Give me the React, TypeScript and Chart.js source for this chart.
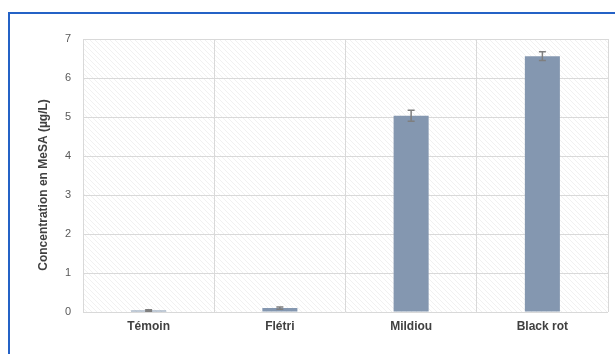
import React, { useEffect, useRef } from "react";
import { Chart, registerables } from "chart.js";

Chart.register(...registerables);

const categories = ["Témoin", "Flétri", "Mildiou", "Black rot"];
const values = [0.04, 0.1, 5.03, 6.56];
const errors = [0.02, 0.03, 0.14, 0.11];
const yTicks = [0, 1, 2, 3, 4, 5, 6, 7];
const yTitle = "Concentration en MeSA (µg/L)";

const FONT = "'Liberation Sans', Arial, sans-serif";

function makePattern(): CanvasPattern | string {
  const c = document.createElement("canvas");
  c.width = 5;
  c.height = 5;
  const ctx = c.getContext("2d");
  if (!ctx) return "#ffffff";
  ctx.fillStyle = "#ffffff";
  ctx.fillRect(0, 0, 5, 5);
  ctx.strokeStyle = "#f1f1f1";
  ctx.lineWidth = 1;
  ctx.beginPath();
  ctx.moveTo(-1, -1);
  ctx.lineTo(6, 6);
  ctx.moveTo(-1, 4);
  ctx.lineTo(1, 6);
  ctx.moveTo(4, -1);
  ctx.lineTo(6, 1);
  ctx.stroke();
  const p = ctx.createPattern(c, "repeat");
  return p || "#ffffff";
}

const bgPlugin = {
  id: "plotBg",
  beforeDraw(chart: any) {
    const { ctx, chartArea } = chart;
    if (!chartArea) return;
    ctx.save();
    ctx.fillStyle = makePattern();
    ctx.fillRect(chartArea.left, chartArea.top, chartArea.right - chartArea.left, chartArea.bottom - chartArea.top);
    ctx.restore();
  },
};

const titlePlugin = {
  id: "yTitle",
  afterDraw(chart: any) {
    const { ctx } = chart;
    ctx.save();
    ctx.translate(44, 185);
    ctx.rotate(-Math.PI / 2);
    ctx.fillStyle = "#404040";
    ctx.font = `bold 12px ${FONT}`;
    ctx.textAlign = "center";
    ctx.textBaseline = "middle";
    ctx.fillText(yTitle, 0, 0);
    ctx.restore();
  },
};

const errorPlugin = {
  id: "errBars",
  afterDatasetsDraw(chart: any) {
    const { ctx } = chart;
    const meta = chart.getDatasetMeta(0);
    const yScale = chart.scales.y;
    ctx.save();
    ctx.strokeStyle = "#7f7f7f";
    ctx.lineWidth = 1.5;
    meta.data.forEach((bar: any, i: number) => {
      const v = values[i];
      const e = errors[i];
      const x = bar.x;
      const yTop = yScale.getPixelForValue(v + e);
      const yBot = yScale.getPixelForValue(Math.max(0, v - e));
      ctx.beginPath();
      ctx.moveTo(x, yTop);
      ctx.lineTo(x, yBot);
      ctx.moveTo(x - 3.5, yTop);
      ctx.lineTo(x + 3.5, yTop);
      ctx.moveTo(x - 3.5, yBot);
      ctx.lineTo(x + 3.5, yBot);
      ctx.stroke();
    });
    ctx.restore();
  },
};

export default function App() {
  const ref = useRef<HTMLCanvasElement | null>(null);

  useEffect(() => {
    if (!ref.current) return;
    const chart = new Chart(ref.current, {
      type: "bar",
      data: {
        labels: categories,
        datasets: [
          {
            data: values,
            backgroundColor: "#8497b0",
            borderWidth: 0,
            categoryPercentage: 1,
            barPercentage: 0.267,
          },
        ],
      },
      options: {
        responsive: false,
        animation: false,
        layout: { padding: { left: 33, top: 39, right: 7, bottom: 12 } },
        plugins: {
          legend: { display: false },
          tooltip: { enabled: false },
        },
        scales: {
          x: {
            grid: { color: "#d9d9d9", lineWidth: 1, offset: true, drawTicks: false },
            border: { display: false },
            ticks: {
              color: "#404040",
              font: { family: FONT, size: 12, weight: "bold" },
              padding: 7,
              maxRotation: 0,
            },
            afterFit(scale: any) {
              scale.height = 30;
            },
          },
          y: {
            min: 0,
            max: 7,
            afterBuildTicks(scale: any) {
              scale.ticks = yTicks.map((v) => ({ value: v }));
            },
            grid: { color: "#d9d9d9", lineWidth: 1, drawTicks: false },
            border: { display: false },
            ticks: {
              color: "#595959",
              font: { family: FONT, size: 11 },
              padding: 12,
            },
            title: { display: false },
            afterFit(scale: any) {
              scale.width = 50;
            },
          },
        },
      },
      plugins: [bgPlugin, errorPlugin, titlePlugin],
    });
    return () => chart.destroy();
  }, []);

  return (
    <div
      style={{
        position: "fixed",
        left: 0,
        top: 0,
        width: 615,
        height: 354,
        overflow: "hidden",
        background: "#ffffff",
      }}
    >
      <div
        style={{
          position: "absolute",
          left: 8,
          top: 12,
          width: 640,
          height: 380,
          border: "2px solid #2462c6",
          boxSizing: "border-box",
        }}
      />
      <canvas
        ref={ref}
        width={615}
        height={354}
        style={{ position: "absolute", left: 0, top: 0 }}
      />
    </div>
  );
}
